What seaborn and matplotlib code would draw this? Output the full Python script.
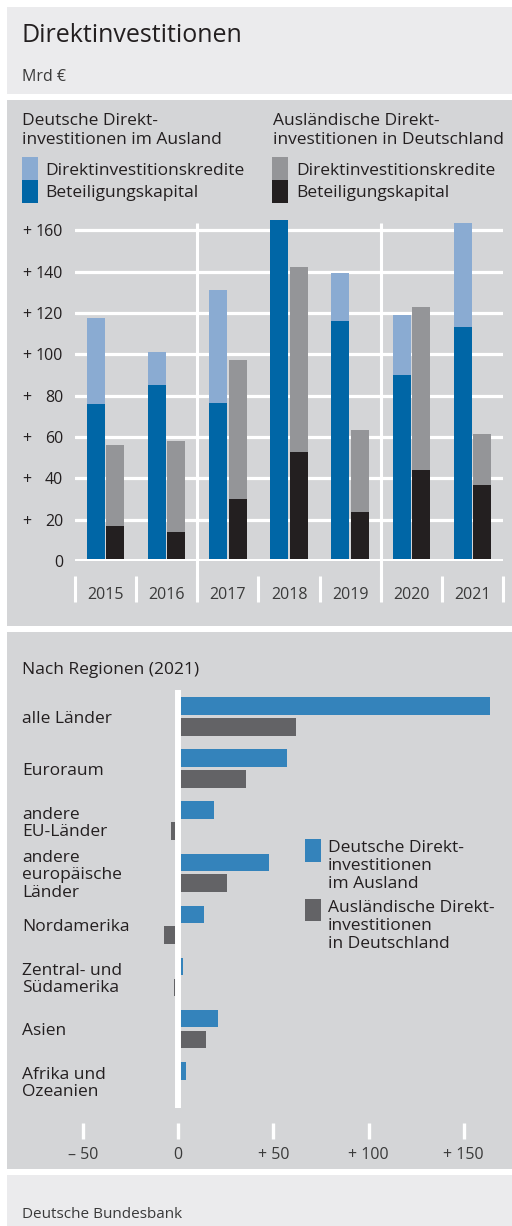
import numpy as np
import pandas as pd
import matplotlib.pyplot as plt
import seaborn as sns
from matplotlib.patches import Rectangle

# Daten (Mrd €)
jahre = ["2015", "2016", "2017", "2018", "2019", "2020", "2021"]
de_beteiligung = [76, 85, 76.5, 165, 116, 90, 113]
de_kredite = [41.6, 16.3, 54.5, 0, 23.2, 29.2, 50.5]
ausl_beteiligung = [17, 14, 30, 52.6, 23.5, 44, 37]
ausl_kredite = [39, 44, 67.4, 89.8, 40, 78.7, 24.6]

regionen = ["alle Länder", "Euroraum", "andere\nEU-Länder", "andere\neuropäische\nLänder",
            "Nordamerika", "Zentral- und\nSüdamerika", "Asien", "Afrika und\nOzeanien"]
reg_de = [164, 57, 19, 48, 13.5, 2.7, 21, 4]
reg_ausl = [62, 35.5, -3.5, 25.5, -7.3, -2.3, 14.5, 0]

y_ticks = [0, 20, 40, 60, 80, 100, 120, 140, 160]
x_ticks_reg = [-50, 0, 50, 100, 150]
x_ticklabels_reg = ["\u2013 50", "0", "+ 50", "+ 100", "+ 150"]

# Farben
HELLBLAU = "#8aabd2"
DUNKELBLAU = "#0066a6"
HELLGRAU = "#949598"
SCHWARZ = "#231f20"
BLAU_REG = "#3483bb"
GRAU_REG = "#636366"
PANEL = "#d4d5d7"
KOPF = "#ebebed"
TEXT = "#231f20"

sns.set_theme(style="white")
plt.rcParams['font.family'] = ['Open Sans', 'DejaVu Sans']

W, H = 512, 1226
fig = plt.figure(figsize=(W / 100, H / 100), dpi=100)
fig.patch.set_facecolor("white")


def fx(x):
    return x / W


def fy(y):
    return 1 - y / H


def box(x0, y0, x1, y1, color):
    fig.patches.append(Rectangle((fx(x0), fy(y1)), fx(x1) - fx(x0), fy(y0) - fy(y1),
                                 transform=fig.transFigure, color=color, zorder=-10, lw=0))


def txt(x, y, s, size=12.5, color=TEXT, **kw):
    fig.text(fx(x), fy(y), s, fontsize=size, color=color, va="center_baseline", ha="left", **kw)


# Hintergrund-Panels
box(7, 7, 512, 93.5, KOPF)
box(7, 100, 512, 625.5, PANEL)
box(7, 631.5, 512, 1168.5, PANEL)
box(7, 1175, 512, 1226, KOPF)

txt(22, 32, "Direktinvestitionen", size=18)
txt(22, 75, "Mrd €", size=11.5, color="#3a3a3a")
txt(22, 1212, "Deutsche Bundesbank", size=11, color="#3a3a3a")

# Legende oben
txt(22, 119, "Deutsche Direkt-")
txt(22, 138, "investitionen im Ausland")
txt(273, 119, "Ausländische Direkt-")
txt(273, 138, "investitionen in Deutschland")
box(22, 157, 38, 180, HELLBLAU)
box(22, 180, 38, 203, DUNKELBLAU)
box(272, 157, 288, 180, HELLGRAU)
box(272, 180, 288, 203, SCHWARZ)
for x0 in (45, 296):
    txt(x0, 169, "Direktinvestitionskredite")
    txt(x0, 191, "Beteiligungskapital")

# ---- Oberes Diagramm ----
scale = 330.7 / 160
ymax = 168
ax_top_px = 561 - ymax * scale
ax1 = fig.add_axes([fx(75), fy(561), fx(503) - fx(75), (561 - ax_top_px) / H])
ax1.patch.set_visible(False)

df_tot = pd.DataFrame({
    "Jahr": jahre * 2,
    "Reihe": ["DE"] * 7 + ["AUSL"] * 7,
    "Wert": list(np.add(de_beteiligung, de_kredite)) + list(np.add(ausl_beteiligung, ausl_kredite)),
})
df_bet = pd.DataFrame({
    "Jahr": jahre * 2,
    "Reihe": ["DE"] * 7 + ["AUSL"] * 7,
    "Wert": de_beteiligung + ausl_beteiligung,
})
sns.barplot(data=df_tot, x="Jahr", y="Wert", hue="Reihe", palette={"DE": HELLBLAU, "AUSL": HELLGRAU},
            width=0.64, gap=0.08, saturation=1, linewidth=0, errorbar=None, legend=False, ax=ax1)
sns.barplot(data=df_bet, x="Jahr", y="Wert", hue="Reihe", palette={"DE": DUNKELBLAU, "AUSL": SCHWARZ},
            width=0.64, gap=0.08, saturation=1, linewidth=0, errorbar=None, legend=False, ax=ax1)

ax1.set_xlim(-0.5, 6.5)
ax1.set_ylim(0, ymax)
ax1.set_xlabel("")
ax1.set_ylabel("")
ax1.set_yticks(y_ticks)
ax1.set_yticklabels([str(v) for v in y_ticks])
ax1.set_axisbelow(True)
ax1.yaxis.grid(True, color="white", lw=2.3)
ax1.xaxis.grid(False)
ax1.axhline(0, color="white", lw=3.6, zorder=3)
for s in ax1.spines.values():
    s.set_visible(False)
ax1.spines["bottom"].set_position(("outward", 11))
ax1.tick_params(axis="y", left=True, length=0, pad=8.5, labelsize=11.5, labelcolor=TEXT)
ax1.tick_params(axis="x", which="major", bottom=True, length=0, pad=8, labelsize=11.5, labelcolor="#3a3a3a")
ax1.set_xticks(np.arange(-0.5, 7, 1), minor=True)
ax1.tick_params(axis="x", which="minor", bottom=True, length=18.7, width=2.2, color="white", direction="out")
for v in y_ticks[1:]:
    ax1.text(-(75 - 22) / 428, v, "+", transform=ax1.get_yaxis_transform(), ha="left",
             va="center_baseline", fontsize=11.5, color=TEXT)
ax1.vlines([1.5, 4.5], -17.9, 163.5, color="white", lw=2.2, clip_on=False, zorder=0)

# ---- Unteres Diagramm ----
txt(22, 668, "Nach Regionen (2021)")

sc2 = 1.905
ax2 = fig.add_axes([fx(60), fy(1107.7), fx(500) - fx(60), (1107.7 - 690) / H])
ax2.patch.set_visible(False)
df_reg = pd.DataFrame({
    "Region": regionen * 2,
    "Reihe": ["DE"] * 8 + ["AUSL"] * 8,
    "Wert": reg_de + reg_ausl,
})
sns.barplot(data=df_reg, y="Region", x="Wert", hue="Reihe", orient="h",
            palette={"DE": BLAU_REG, "AUSL": GRAU_REG}, width=0.8, gap=0.15, saturation=1,
            linewidth=0, errorbar=None, legend=False, ax=ax2)
ax2.set_xlim((60 - 178) / sc2, (500 - 178) / sc2)
ax2.set_ylim(7.51, -0.51)
ax2.set_xlabel("")
ax2.set_ylabel("")
ax2.axvline(0, color="white", lw=4.3, zorder=3)
for s in ax2.spines.values():
    s.set_visible(False)
ax2.spines["bottom"].set_position(("outward", 11.3))
ax2.set_xticks(x_ticks_reg)
ax2.set_xticklabels(x_ticklabels_reg)
ax2.tick_params(axis="x", bottom=True, length=11.5, width=2.4, color="white", direction="out", pad=5.5,
                labelsize=11.5, labelcolor="#3a3a3a")
ax2.tick_params(axis="y", left=True, length=0, pad=(60 - 22) * 0.72, labelsize=12.5, labelcolor=TEXT)
for lab in ax2.get_yticklabels():
    lab.set_horizontalalignment("left")
    lab.set_linespacing(1.1)
ax2.grid(False)

# Legende unten
box(305, 839, 321, 862, BLAU_REG)
box(305, 899, 321, 921, GRAU_REG)
for i, s in enumerate(["Deutsche Direkt-", "investitionen", "im Ausland"]):
    txt(328, 846 + 18 * i, s)
for i, s in enumerate(["Ausländische Direkt-", "investitionen", "in Deutschland"]):
    txt(328, 906 + 18 * i, s)

fig.savefig("out.png", dpi=100)
